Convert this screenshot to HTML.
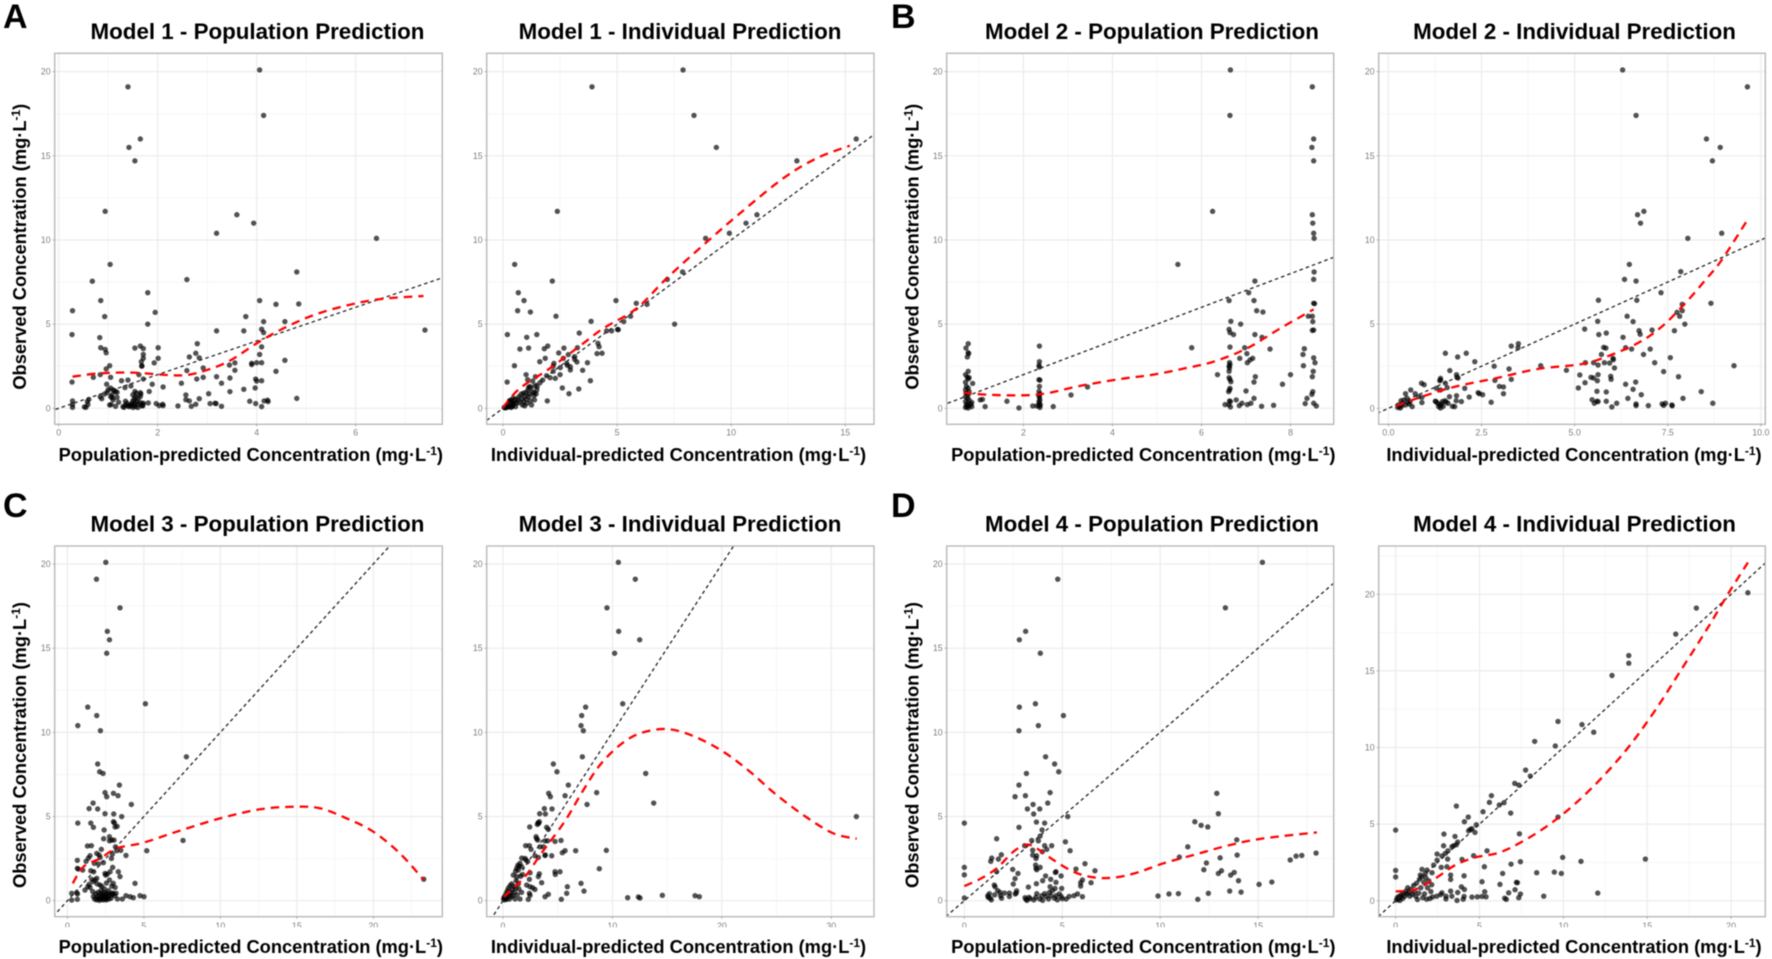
<!DOCTYPE html>
<html lang="en">
<head>
<meta charset="utf-8">
<title>Goodness-of-fit plots for Models 1 to 4</title>
<style>
html,body{margin:0;padding:0;background:#fff;width:1772px;height:959px;overflow:hidden}
#figure{display:block;filter:blur(0.45px)}
.title{font:bold 22.35px "Liberation Sans",sans-serif;fill:#000;text-anchor:middle}
.axt{font:bold 18.3px "Liberation Sans",sans-serif;fill:#000;text-anchor:middle}
.sup{font-size:12px}
.letter{font:bold 34px "Liberation Sans",sans-serif;fill:#000}
.tick{font:8.8px "Liberation Sans",sans-serif;fill:#7f7f7f}
</style>
</head>
<body>
<svg id="figure" xmlns="http://www.w3.org/2000/svg" width="1772" height="959" viewBox="0 0 1772 959">
<rect width="1772" height="959" fill="#fff"/>
<text class="letter" x="3" y="28">A</text>
<text class="letter" x="891" y="28">B</text>
<text class="letter" x="3" y="517">C</text>
<text class="letter" x="891" y="517">D</text>

<text class="title" x="257.5" y="39">Model 1 - Population Prediction</text>
<text class="title" x="680" y="39">Model 1 - Individual Prediction</text>
<text class="title" x="1152" y="39">Model 2 - Population Prediction</text>
<text class="title" x="1574.5" y="39">Model 2 - Individual Prediction</text>
<text class="title" x="257.5" y="531.7">Model 3 - Population Prediction</text>
<text class="title" x="680" y="531.7">Model 3 - Individual Prediction</text>
<text class="title" x="1152" y="531.7">Model 4 - Population Prediction</text>
<text class="title" x="1574.5" y="531.7">Model 4 - Individual Prediction</text>

<text class="axt" x="250.8" y="461">Population-predicted Concentration (mg·L<tspan class="sup" dy="-6">-1</tspan><tspan dy="6">)</tspan></text>
<text class="axt" x="678.5" y="461">Individual-predicted Concentration (mg·L<tspan class="sup" dy="-6">-1</tspan><tspan dy="6">)</tspan></text>
<text class="axt" x="1143.3" y="461">Population-predicted Concentration (mg·L<tspan class="sup" dy="-6">-1</tspan><tspan dy="6">)</tspan></text>
<text class="axt" x="1574" y="461">Individual-predicted Concentration (mg·L<tspan class="sup" dy="-6">-1</tspan><tspan dy="6">)</tspan></text>
<text class="axt" x="250.8" y="953">Population-predicted Concentration (mg·L<tspan class="sup" dy="-6">-1</tspan><tspan dy="6">)</tspan></text>
<text class="axt" x="678.5" y="953">Individual-predicted Concentration (mg·L<tspan class="sup" dy="-6">-1</tspan><tspan dy="6">)</tspan></text>
<text class="axt" x="1143.3" y="953">Population-predicted Concentration (mg·L<tspan class="sup" dy="-6">-1</tspan><tspan dy="6">)</tspan></text>
<text class="axt" x="1574" y="953">Individual-predicted Concentration (mg·L<tspan class="sup" dy="-6">-1</tspan><tspan dy="6">)</tspan></text>

<text class="axt" transform="translate(26,246.7) rotate(-90)">Observed Concentration (mg·L<tspan class="sup" dy="-6">-1</tspan><tspan dy="6">)</tspan></text>
<text class="axt" transform="translate(918.5,246.7) rotate(-90)">Observed Concentration (mg·L<tspan class="sup" dy="-6">-1</tspan><tspan dy="6">)</tspan></text>
<text class="axt" transform="translate(26,745) rotate(-90)">Observed Concentration (mg·L<tspan class="sup" dy="-6">-1</tspan><tspan dy="6">)</tspan></text>
<text class="axt" transform="translate(918.5,745) rotate(-90)">Observed Concentration (mg·L<tspan class="sup" dy="-6">-1</tspan><tspan dy="6">)</tspan></text>
</svg>

<script>
/* ---------- Model 1 population ---------- */
const m1PopXDomain=[-0.08,7.75];
const m1PopYDomain=[-0.95,21.09];
const m1PopXTicks=[0,2,4,6];
const m1PopXTickLabels=["0","2","4","6"];
const m1PopXMinor=[1,3,5,7];
const m1PopPoints=[[4.06,20.1],[4.14,17.4],[1.4,19.1],[1.65,16],[1.42,15.5],[1.54,14.7],[.94,11.7],[3.6,11.5],[3.94,11],[3.19,10.4],[6.42,10.1],[1.04,8.55],[4.81,8.1],[2.59,7.65],[.68,7.55],[1.8,6.87],[.85,6.4],[4.06,6.4],[4.39,6.18],[4.85,6.2],[.28,5.8],[1.95,5.7],[.93,5.45],[3.78,5.45],[4.14,5.15],[4.57,5.15],[1.8,5],[4.1,4.7],[3.74,4.6],[3.19,4.6],[4.14,4.5],[.27,4.38],[.83,4.2],[7.4,4.65],[.85,3.6],[.94,3.5],[.96,3.3],[1.54,3.58],[1.65,3.7],[1.71,3.55],[2.01,3.6],[2.8,3.84],[4.06,3.2],[4.1,3.65],[1.71,3.2],[1.71,2.97],[2.01,2.97],[1.93,2.7],[2.64,3.05],[2.77,3.27],[2.84,3],[1.67,2.77],[1.68,2.53],[1.68,2.5],[1.03,2.53],[.96,2.34],[2.92,2.4],[3.45,2.57],[3.56,2.7],[3.56,2.26],[3.9,2.67],[3.9,2.6],[4,2.71],[4.1,2.71],[4.57,2.85],[4.39,2.2],[2.59,2.24],[1.62,2],[.7,1.84],[.84,2],[1.05,1.84],[3.19,1.88],[2.92,1.84],[2.79,1.74],[3.46,1.8],[1.71,1.74],[.27,1.56],[1.27,1.64],[1.4,1.68],[3.98,1.74],[4,1.62],[4.1,1.64],[2.48,1.49],[3.29,1.49],[1.89,1.43],[.97,1.43],[1.46,1.33],[2.11,1.27],[1.34,1.23],[3.74,1.13],[3.97,1.21],[3.46,.99],[1.83,1],[1.1,1.09],[1.15,1],[3.03,.87],[2.57,.79],[1.65,.93],[1.54,1],[.98,.95],[.84,.69],[.87,.57],[1.08,.63],[4.81,.59],[2.84,.57],[2.57,.51],[2.64,.44],[3.86,.42],[4.15,.44],[4.22,.48],[4.23,.4],[.28,.44],[.61,.53],[.58,.4],[1.35,.42],[3.06,.28],[3.16,.3],[3.18,.28],[3.98,.28],[1.97,.28],[1.81,.32],[1.71,.3],[1.21,.36],[2.03,.16],[2.11,.16],[2.1,.24],[2.41,.14],[2.68,.12],[2.77,.24],[3.29,.12],[4.1,.1],[1.15,.12],[1.06,.22],[1.03,.2],[.52,.08],[.55,.06],[.28,.06],[.28,.22],[.59,.22],[1.32,.06],[1.3,.1],[1.4,.15],[1.42,.1],[1.45,.2],[1.48,.3],[1.5,.05],[1.52,.2],[1.55,.1],[1.55,.3],[1.5,.45],[1.53,.55],[1.55,.7],[1.5,.8],[1.57,.9],[1.62,.25],[1.65,.35],[1.65,.7],[1.68,.15],[1.7,.25],[1.66,.85],[1.6,.05],[.93,.85],[1,1.1],[1.05,1.2],[1.08,.8],[1.12,1.05],[1.18,.95],[1.05,.7],[1.1,.5],[1.18,.65],[1.35,.2],[1.38,.3],[1.46,.15],[1.58,.42],[1.6,.6],[1.7,.15]];
const m1PopSmooth=[[.28,1.88],[.84,2.08],[1.5,2.12],[2.18,1.98],[2.59,1.98],[3,2.28],[3.46,2.83],[4,3.86],[4.54,4.75],[5.21,5.6],[5.95,6.2],[6.56,6.51],[7.37,6.67]];

/* ---------- Model 1 individual ---------- */
const m1IndXDomain=[-0.716,16.26];
const m1IndYDomain=[-0.95,21.09];
const m1IndXTicks=[0,5,10,15];
const m1IndXTickLabels=["0","5","10","15"];
const m1IndXMinor=[2.5,7.5,12.5];
const m1IndPoints=[[7.89,20.1],[8.37,17.4],[3.9,19.1],[15.48,16],[9.35,15.5],[12.88,14.7],[2.38,11.7],[11.13,11.5],[10.65,11],[9.92,10.4],[8.88,10.1],[.51,8.55],[7.87,8.1],[7.2,7.66],[2.16,7.56],[.67,6.87],[.92,6.4],[4.95,6.4],[6.31,6.18],[5.84,6.24],[.64,5.8],[1.2,5.72],[2.32,5.47],[5.59,5.47],[3.86,5.17],[5.29,5.15],[7.52,5],[5.02,4.69],[5.05,4.67],[4.54,4.6],[4.76,4.6],[3.34,4.47],[.19,4.38],[1.48,4.38],[1.04,4.22],[4.16,3.86],[4.21,3.66],[.74,3.52],[1.12,3.58],[1.81,3.54],[1.96,3.7],[2.67,3.58],[3.26,3.6],[2.44,3.29],[2.86,3.19],[4.12,3.25],[4.34,3.27],[3.14,3.07],[3.14,2.91],[1.85,2.97],[2.64,2.97],[1.61,2.77],[3.7,2.71],[3.24,2.75],[2.23,2.67],[2.79,2.67],[2.82,2.55],[.5,2.53],[2.2,2.51],[2.51,2.42],[2.95,2.47],[2.95,2.28],[3.49,2.26],[2.2,2.2],[1.01,2],[2.5,2],[1.91,1.94],[1.42,1.88],[2.06,1.82],[2.29,1.78],[1.08,1.7],[3.83,1.64],[1.74,1.68],[1.62,1.52],[.18,1.56],[1.3,1.62],[1.5,1.29],[1.18,1.29],[1.12,1.25],[1.48,1.09],[2.6,1.21],[3.32,1.15],[2.89,.87],[1.37,.93],[1.94,.44],[.05,.05],[.1,.02],[.12,.1],[.15,.05],[.18,.2],[.2,.08],[.22,.15],[.25,.3],[.27,.1],[.3,.4],[.32,.2],[.35,.05],[.35,.5],[.38,.25],[.4,.35],[.42,.15],[.45,.6],[.48,.3],[.5,.45],[.55,.1],[.55,.55],[.6,.3],[.65,.5],[.7,.7],[.72,.35],[.8,.85],[.82,.55],[.85,.2],[.9,.9],[.9,.4],[.95,.7],[.95,.15],[1,.95],[1.02,.55],[1.05,.3],[1.1,1.1],[1.12,.7],[1.15,.85],[1.2,.45],[1.22,1.2],[1.25,.2],[1.3,.95],[1.35,.75],[1.38,.5],[1.4,1.35],[1.45,.85],[.28,.45],[.3,.15],[.33,.3],[.4,.1]];
const m1IndSmooth=[[0,.06],[.74,1.19],[2.06,2.38],[3.52,3.86],[4.4,4.75],[5.86,5.94],[7.17,7.72],[8.78,9.7],[10.38,11.58],[12.28,13.66],[13.74,14.85],[15.2,15.6]];

/* ---------- Model 2 population ---------- */
const m2PopXDomain=[0.277,8.97];
const m2PopYDomain=[-0.95,21.09];
const m2PopXTicks=[2,4,6,8];
const m2PopXTickLabels=["2","4","6","8"];
const m2PopXMinor=[1,3,5,7];
const m2PopPoints=[[.76,3.84],[.71,3.58],[.76,3.3],[.77,3.25],[.74,3.05],[.76,2.2],[.7,2],[.74,1.85],[.78,1.82],[.76,1.75],[.7,1.55],[.86,1.48],[.72,1.3],[.76,1.2],[.7,1.1],[.78,1],[.72,.9],[.76,.8],[.7,.7],[.74,.6],[.78,.5],[.7,.4],[.75,.3],[.72,.2],[.78,.15],[.73,.1],[.7,.05],[.76,.02],[.82,.25],[.84,.35],[1.03,.5],[1.08,.53],[1.14,.1],[.84,.1],[1.63,.42],[1.9,.02],[2.21,.14],[2.67,.1],[3.07,.79],[3.44,1.27],[2.36,3.7],[2.36,2.77],[2.35,2.55],[2.36,2.45],[2.35,1.7],[2.37,1.68],[2.36,1.3],[2.35,1],[2.37,.85],[2.35,.75],[2.36,.65],[2.37,.5],[2.35,.4],[2.36,.3],[2.38,.2],[2.35,.15],[2.37,.05],[2.3,.14],[5.78,3.6],[5.47,8.55],[6.25,11.7],[6.65,20.1],[6.64,17.4],[8.49,19.1],[8.52,16],[8.48,15.5],[8.52,14.7],[8.49,11.5],[8.5,11],[8.52,10.4],[8.53,10.1],[8.53,8.1],[8.52,7.66],[7.2,7.56],[7.06,6.87],[7.18,6.4],[6.62,6.4],[8.52,6.24],[8.54,6.22],[7.24,5.8],[7.38,5.72],[8.4,5.47],[8.49,5.47],[8.5,5.15],[6.66,5.17],[6.88,5],[6.62,4.69],[8.49,4.63],[8.52,4.65],[6.64,4.5],[6.72,4.38],[7.2,4.38],[7.36,4.22],[6.64,3.64],[6.97,3.6],[7.54,3.52],[8.31,3.54],[7.02,3.25],[8.28,3.2],[6.86,2.97],[8.52,3],[7.15,2.97],[7.09,2.87],[7.03,2.71],[8.55,2.71],[6.63,2.72],[6.64,2.6],[6.62,2.5],[6.63,2.4],[6.62,2.2],[8.29,2.53],[8.51,2.2],[6.36,2],[8,2],[7.21,1.88],[8.49,1.88],[6.62,1.82],[6.64,1.72],[6.66,1.58],[7.18,1.56],[7.82,1.43],[6.64,1.19],[6.63,1.09],[7,1.03],[6.61,.99],[8.5,.99],[8.48,.83],[8.37,.59],[7.18,.59],[6.78,.5],[6.63,.44],[6.65,.4],[8.33,.28],[8.52,.3],[6.53,.22],[6.61,.22],[6.91,.3],[6.85,.16],[7.11,.3],[7.03,.22],[7.62,.18],[7.35,.12],[8.58,.14],[6.65,.08]];
const m2PopSmooth=[[.65,.93],[1.18,.81],[1.93,.77],[2.52,.89],[3.27,1.33],[4.17,1.74],[4.92,2],[5.67,2.4],[6.27,2.77],[7.02,3.56],[7.77,4.75],[8.52,5.88]];

/* ---------- Model 2 individual ---------- */
const m2IndXDomain=[-0.26,10.12];
const m2IndYDomain=[-0.95,21.09];
const m2IndXTicks=[0,2.5,5,7.5,10];
const m2IndXTickLabels=["0.0","2.5","5.0","7.5","10.0"];
const m2IndXMinor=[1.25,3.75,6.25,8.75];
const m2IndPoints=[[6.29,20.1],[6.65,17.4],[9.64,19.1],[8.54,16],[8.91,15.5],[8.7,14.7],[6.86,11.7],[6.69,11.5],[6.77,11],[8.95,10.4],[8.04,10.1],[6.47,8.55],[7.85,8.12],[6.34,7.66],[6.65,7.56],[7.32,6.87],[5.64,6.42],[6.67,6.42],[8.66,6.24],[7.89,6.18],[7.75,5.7],[7.89,5.8],[6.41,5.47],[7.82,5.47],[5.62,5.17],[6.57,5.15],[7.96,5],[5.27,4.71],[6.73,4.61],[7.08,4.65],[7.68,4.61],[5.85,4.47],[6.76,4.4],[5.65,4.38],[6.3,4.22],[3.49,3.84],[3.3,3.7],[3.48,3.6],[5.78,3.62],[5.84,3.58],[6.37,3.6],[6.53,3.52],[7.03,3.52],[1.53,3.27],[2.09,3.27],[5.72,3.2],[1.86,3.05],[6.85,3.2],[6.03,2.97],[7.57,3.01],[6.04,2.89],[2.32,2.77],[7.15,2.71],[5.29,2.71],[5.51,2.71],[5.8,2.71],[5.94,2.69],[5.63,2.57],[2.84,2.5],[4.09,2.53],[9.28,2.53],[6.07,2.4],[3.24,2.34],[4.78,2.26],[1.65,2.24],[7.39,2.18],[1.83,2],[5.14,1.98],[5.63,2],[5.97,1.9],[7.79,1.88],[5.44,1.84],[5.51,1.8],[1.84,1.84],[1.87,1.8],[1.4,1.78],[1.4,1.68],[1.38,1.64],[3.3,1.72],[2.86,1.66],[5.61,1.64],[5.98,1.72],[.89,1.49],[.96,1.4],[1.53,1.49],[5.28,1.52],[6.64,1.56],[6.37,1.43],[2.98,1.3],[3.09,1.27],[1.58,1.23],[1.29,1.19],[1.4,1.09],[2.05,1.19],[5.1,1.21],[6.57,1.13],[.6,1.09],[5.6,1.01],[5.85,.97],[8.4,.99],[2.41,.93],[2.44,.87],[2.53,.81],[3.09,.87],[6.79,.81],[.46,.87],[.72,.87],[1.64,.69],[1.83,.75],[2.17,.67],[.81,.69],[.9,.65],[6.43,.59],[7.91,.59],[5.47,.51],[1.26,.42],[5.85,.42],[5.6,.42],[5.63,.4],[1.96,.4],[2.76,.36],[.9,.34],[5.53,.3],[7.44,.3],[7.35,.26],[8.71,.3],[6.13,.3],[6.65,.26],[6,.08],[6.65,.16],[6.98,.16],[7.39,.18],[7.61,.2],[7.62,.15],[.64,.1],[.25,.05],[.27,.2],[.3,.12],[.32,.02],[.34,.45],[.36,.15],[.38,.3],[.42,.5],[.46,.2],[.5,.6],[.52,.35],[.56,.25],[.58,.4],[1.32,.3],[1.35,.1],[1.38,.2],[1.4,.02],[1.42,.25],[1.45,.4],[1.47,.12],[1.52,.45],[1.55,.38],[1.6,.3],[1.72,.12],[1.78,.1],[1.82,.45],[1.28,.4]];
const m2IndSmooth=[[.21,.14],[.9,.69],[1.8,1.29],[2.87,1.78],[4.03,2.34],[5.2,2.63],[5.91,3.11],[6.72,3.9],[7.34,4.85],[7.97,6.24],[8.51,7.62],[8.95,8.81],[9.64,11.19]];

/* ---------- Model 3 population ---------- */
const m3PopXDomain=[-0.83,24.51];
const m3PopYDomain=[-0.95,21.07];
const m3PopXTicks=[0,5,10,15,20];
const m3PopXTickLabels=["0","5","10","15","20"];
const m3PopXMinor=[2.5,7.5,12.5,17.5,22.5];
const m3PopPoints=[[2.51,20.1],[1.9,19.1],[3.44,17.4],[2.61,16],[2.75,15.5],[2.57,14.7],[5.1,11.7],[1.33,11.5],[1.92,11],[.68,10.4],[2.16,10.1],[7.78,8.55],[1.98,8.12],[2.11,7.66],[2.33,7.56],[3.4,6.87],[2.46,6.42],[3.01,6.38],[2.57,6.18],[3.31,6.24],[1.68,5.8],[4.18,5.72],[1.42,5.47],[1.98,5.45],[2.46,5.17],[3.03,5.15],[3.55,5],[.68,4.61],[3.01,4.69],[3.07,4.63],[1.53,4.61],[1.7,4.36],[3.25,4.42],[3.12,4.38],[2.4,4.2],[2.37,3.68],[2.75,3.8],[2.9,3.6],[3.05,3.6],[2.75,3.56],[7.56,3.58],[1.31,3.25],[1.57,3.27],[3.14,3.2],[2.22,3.05],[3.49,2.99],[3.22,2.97],[5.19,2.97],[1.92,2.81],[3.83,2.69],[2.07,2.71],[2.94,2.77],[1.48,2.67],[1.37,2.53],[2.14,2.57],[.65,2.4],[1.22,2.34],[2.88,2.51],[1.76,2.22],[2.35,2.26],[2.03,2.18],[2.96,1.98],[.65,1.92],[.72,1.88],[1,1.82],[1.53,1.78],[1.72,1.72],[3.33,1.72],[2.79,1.72],[2.46,1.62],[2.61,1.58],[2.5,1.52],[3.44,1.43],[1.92,1.33],[1.81,1.23],[1.59,1.27],[1.7,1.13],[2.75,1.23],[3,1.03],[4.42,1.03],[1.42,.97],[1.33,.83],[1.15,.63],[1.48,.79],[2.14,.93],[2.9,.87],[3.12,.79],[.61,.48],[.66,.4],[.28,.44],[3.18,.44],[3.83,.3],[4.75,.3],[5.01,.24],[4.1,.24],[4.31,.18],[3.59,.1],[.28,.04],[.65,.08],[3.27,.1],[23.3,1.28],[1.7,.25],[1.78,.1],[1.85,.4],[1.9,.05],[1.95,.2],[2,.5],[2.02,.1],[2.08,.3],[2.1,.02],[2.14,.15],[2.18,.42],[2.2,.6],[2.25,.08],[2.28,.25],[2.32,.35],[2.35,.05],[2.38,.5],[2.4,.15],[2.42,.7],[2.47,.25],[2.5,.38],[2.52,.1],[2.55,.05],[2.58,.45],[2.6,.2],[2.65,.3],[2.7,.6],[2.72,.1],[2.78,.4],[2.85,.15],[2.9,.35],[3,.42],[1.65,.55],[2.25,.85],[1.95,1],[2.55,1.05],[2.95,.45],[3.1,.3]];
const m3PopSmooth=[[.35,1.03],[1.05,2.02],[2.14,2.51],[3.22,3.11],[4.97,3.45],[7.15,4.1],[9.98,4.89],[12.59,5.43],[14.77,5.58],[16.51,5.49],[18.26,4.89],[20,4.1],[21.74,2.81],[23.3,1.23]];

/* ---------- Model 3 individual ---------- */
const m3IndXDomain=[-1.49,33.9];
const m3IndYDomain=[-0.95,21.07];
const m3IndXTicks=[0,10,20,30];
const m3IndXTickLabels=["0","10","20","30"];
const m3IndXMinor=[5,15,25];
const m3IndPoints=[[10.54,20.1],[12.09,19.1],[9.5,17.4],[10.57,16],[12.49,15.5],[10.2,14.7],[10.94,11.7],[7.55,11.5],[7.19,11],[7.13,10.4],[7.34,10.1],[7.25,8.55],[4.6,8.12],[4.93,7.66],[13.04,7.56],[5.97,6.87],[8.56,6.42],[4.17,6.38],[4.33,6.18],[5.67,6.24],[13.77,5.8],[7.68,5.72],[3.78,5.47],[4.48,5.45],[3.35,5.17],[3.87,5.15],[32.29,5],[3.32,4.69],[3.2,4.63],[3.26,4.6],[3.14,4.53],[2.44,4.38],[3.99,4.36],[4.14,4.24],[3.02,3.8],[3.08,3.68],[3.17,3.6],[4.75,3.52],[5.3,3.58],[3.84,3.56],[4.08,3.56],[2.07,3.27],[2.41,3.27],[3.38,3.2],[3.69,3.2],[2.56,3.05],[5.67,2.97],[5.42,2.85],[6.64,2.97],[9.44,2.99],[3.84,2.69],[4.45,2.67],[2.92,2.67],[3.23,2.57],[3.86,2.72],[1.71,2.53],[2.01,2.51],[2.1,2.42],[2.25,2.32],[1.55,2.22],[1.49,2.06],[1.25,1.92],[1.71,2.02],[8.8,1.9],[1.4,1.82],[.94,1.52],[1.25,1.43],[2.47,1.66],[4.75,1.72],[5.21,1.72],[4.78,1.56],[3.32,1.6],[3.23,1.43],[2.41,1.27],[3.53,1.07],[7.13,1.03],[5.88,.83],[2.16,.93],[2.47,.83],[2.71,.77],[2.92,.67],[7.4,.57],[5.82,.44],[2.41,.44],[2.47,.32],[4.14,.38],[3.84,.24],[5.33,.08],[14.56,.32],[17.55,.3],[17.94,.24],[11.39,.18],[12.37,.22],[12.52,.16],[2.31,.08],[.05,.1],[.1,.2],[.15,.05],[.2,.3],[.25,.15],[.3,.45],[.35,.08],[.4,.6],[.45,.25],[.5,.75],[.55,.4],[.6,.1],[.65,.9],[.7,.5],[.75,.25],[.8,1],[.85,.65],[.9,.3],[1,.85],[1.05,.5],[1.1,.1],[1.15,.75],[1.2,1.2],[1.3,.35],[1.4,1],[1.45,.7],[1.55,.1],[1.6,1.45],[1.7,.5],[1.8,1.55],[1.15,1.75],[1.35,2.1]];
const m3IndSmooth=[[.09,.24],[2.01,1.43],[3.38,2.71],[4.45,3.64],[5.82,4.89],[7.34,6.57],[8.86,8.06],[10.69,9.25],[12.52,9.94],[14.96,10.2],[17.39,9.78],[20.13,8.85],[22.57,7.66],[25,6.28],[27.75,4.95],[30.19,4],[32.32,3.68]];

/* ---------- Model 4 population ---------- */
const m4PopXDomain=[-0.9,18.86];
const m4PopYDomain=[-0.95,21.07];
const m4PopXTicks=[0,5,10,15];
const m4PopXTickLabels=["0","5","10","15"];
const m4PopXMinor=[2.5,7.5,12.5,17.5];
const m4PopPoints=[[15.22,20.1],[4.77,19.1],[13.33,17.4],[3.13,16],[2.81,15.5],[3.88,14.7],[3.63,11.7],[2.81,11.5],[5.06,11],[3.78,10.4],[2.79,10.1],[4.15,8.55],[4.61,8.12],[4.82,7.66],[3.17,7.56],[2.79,6.87],[4.38,6.42],[12.89,6.38],[2.59,6.18],[3.12,6.24],[4.26,5.8],[3.51,5.72],[3.22,5.45],[3.85,5.45],[3.54,5.15],[12.97,5.17],[5.28,5],[0,4.61],[3.68,4.67],[4.1,4.61],[11.77,4.69],[12.09,4.48],[12.43,4.38],[2.79,4.36],[3.97,4.2],[1.65,3.68],[3.87,3.84],[13.91,3.62],[3.44,3.58],[3.78,3.56],[5.16,3.5],[3.08,3.27],[4.1,3.27],[4.46,3.27],[11.41,3.2],[4.21,3.05],[3.49,3],[5.4,2.97],[3.98,2.91],[1.89,2.73],[3.49,2.71],[3.69,2.67],[10.98,2.59],[13.93,2.71],[13.06,2.55],[1.4,2.53],[1.74,2.47],[1.35,2.34],[3.66,2.51],[12.36,2.24],[17.23,2.69],[16.94,2.65],[16.64,2.42],[17.96,2.83],[6.16,2.2],[3.64,2.12],[3.87,1.98],[0,1.98],[3.66,1.92],[3.7,1.84],[2.47,1.86],[5.7,1.88],[12.23,1.84],[6.67,1.78],[13.13,1.78],[2.74,1.62],[12.97,1.62],[4.65,1.68],[4.68,1.72],[13.78,1.68],[13.6,1.52],[0,1.54],[1.65,1.72],[4.94,1.47],[4.15,1.47],[2.59,1.31],[4.41,1.27],[4,1.19],[14,1.19],[6.03,1.23],[5.94,1.07],[2.5,.99],[4.68,1.09],[6.47,1.07],[15.05,.97],[15.7,1.11],[3.68,1.01],[5.94,.87],[1.53,.93],[1.57,.83],[3.27,.81],[4.38,.83],[4.63,.73],[4.97,.73],[13.55,.57],[14.13,.51],[2.67,.59],[10.93,.42],[10.45,.4],[9.89,.28],[12.46,.44],[11.92,.08],[6.03,.24],[0,.16],[1.2,.3],[1.22,.2],[1.28,.42],[1.32,.15],[1.38,.05],[1.55,.35],[1.7,.6],[1.82,.5],[1.85,.3],[1.9,.15],[2.05,.45],[2.3,.45],[2.3,.25],[2.6,.4],[2.65,.45],[3.1,.18],[3.15,.08],[3.2,.02],[3.3,.2],[3.36,.12],[3.55,.05],[3.65,.2],[3.7,.42],[3.85,.1],[3.95,.3],[4,.02],[4.1,.42],[4.18,.25],[4.3,.1],[4.35,.5],[4.42,.3],[4.5,.6],[4.6,.15],[4.68,.3],[4.75,.05],[4.85,.4],[4.95,.25],[5,.12],[5.2,.1],[5.35,.25],[5.6,.3],[5.78,.4]];
const m4PopSmooth=[[0,.87],[.8,1.29],[1.65,1.92],[2.5,2.91],[3.18,3.33],[3.69,3.11],[4.55,2.42],[5.57,1.72],[6.59,1.39],[7.61,1.37],[8.8,1.66],[10.17,2.22],[11.87,2.77],[13.57,3.31],[15.27,3.7],[18,4.06]];

/* ---------- Model 4 individual ---------- */
const m4IndXDomain=[-1.01,22.04];
const m4IndYDomain=[-1.04,23.15];
const m4IndXTicks=[0,5,10,15,20];
const m4IndXTickLabels=["0","5","10","15","20"];
const m4IndXMinor=[2.5,7.5,12.5,17.5];
const m4IndPoints=[[21,20.1],[17.93,19.1],[16.7,17.4],[13.9,16],[13.9,15.5],[12.9,14.7],[9.68,11.7],[11.11,11.5],[11.81,11],[8.29,10.4],[9.52,10.1],[7.75,8.53],[8.03,8.14],[7.1,7.66],[7.34,7.55],[5.71,6.86],[3.62,6.18],[5.59,6.42],[6.46,6.4],[6.18,6.25],[5.21,5.81],[6.86,5.72],[4.33,5.46],[4.1,5.16],[9.68,5.46],[4.81,4.96],[0,4.61],[4.45,4.66],[4.55,4.7],[4.35,4.57],[4.73,4.46],[2.88,4.35],[7.38,4.37],[3.54,4.2],[3.7,3.83],[3.62,3.66],[3.46,3.59],[3.36,3.53],[2.86,3.59],[3.12,3.26],[2.96,3.09],[5.45,3.26],[2.47,3.05],[2.76,2.92],[3.1,2.72],[3.96,2.7],[4.65,2.94],[9.96,2.83],[14.89,2.72],[11.05,2.57],[7.44,2.55],[6.88,2.39],[3.06,2.22],[5.29,2.22],[2.72,2.18],[2.47,2.65],[2.27,2.33],[1.57,2.05],[1.87,2],[0,1.98],[8.41,1.83],[9.46,1.87],[9.88,1.78],[6.38,1.78],[3.28,1.68],[4.08,1.63],[3.28,1.39],[0,1.55],[1.77,1.78],[1.47,1.68],[2.17,1.83],[5.15,1.24],[7.2,1.2],[7.26,1.18],[6.22,1.07],[3.92,.91],[4.1,.74],[7.12,.72],[2.76,.52],[3.28,.63],[3.7,.54],[5.31,.59],[6.74,.52],[12.05,.5],[7.44,.44],[8.83,.3],[4.08,.28],[4.55,.24],[4.87,.26],[5.15,.28],[5.39,.26],[6.5,.17],[6.6,.09],[7.34,.2],[3.66,.02],[4.03,.1],[.05,.05],[.1,.2],[.15,.1],[.2,.3],[.25,.02],[.3,.25],[.35,.4],[.42,.15],[.48,.5],[.55,.3],[.6,.62],[.68,.45],[.72,.85],[.8,.55],[.85,.3],[.92,.75],[1,.42],[1.08,1],[1.12,.6],[1.2,.3],[1.25,1.15],[1.3,.08],[1.38,.5],[1.42,1.4],[1.5,.85],[1.55,1.55],[1.62,.2],[1.68,1.2],[1.72,.45],[1.8,1.5],[1.85,.1],[1.9,.85],[1.98,1.3],[2.05,.15],[2.1,.6],[2.15,1.05],[2.2,.25],[2.45,.3],[2.68,.4],[3,.12],[3.35,.3],[3,.3]];
const m4IndSmooth=[[0,.61],[1.17,.74],[2.37,1.46],[3.56,2.33],[4.75,2.83],[6.14,3.13],[7.53,3.85],[9.13,4.95],[10.72,6.35],[12.31,8.05],[13.9,10.05],[15.49,12.45],[17.08,15.17],[18.47,17.56],[19.86,20.1],[21,22.07]];

/* ---------- shared y axes ---------- */
const yTicksStandard=[0,5,10,15,20];
const yMinorStandard=[2.5,7.5,12.5,17.5];
const yMinorExtended=[2.5,7.5,12.5,17.5,22.5];

/* ---------- layout (pixel boxes only) ---------- */
const panels=[
 {id:'model-1-population',box:[54.7,442.3,53.3,424.3],row:0,xd:m1PopXDomain,yd:m1PopYDomain,xt:m1PopXTicks,xl:m1PopXTickLabels,xm:m1PopXMinor,yt:yTicksStandard,ym:yMinorStandard,pts:m1PopPoints,sm:m1PopSmooth},
 {id:'model-1-individual',box:[486.7,874,53.3,424.3],row:0,xd:m1IndXDomain,yd:m1IndYDomain,xt:m1IndXTicks,xl:m1IndXTickLabels,xm:m1IndXMinor,yt:yTicksStandard,ym:yMinorStandard,pts:m1IndPoints,sm:m1IndSmooth},
 {id:'model-2-population',box:[946.7,1333.7,53.3,424.3],row:0,xd:m2PopXDomain,yd:m2PopYDomain,xt:m2PopXTicks,xl:m2PopXTickLabels,xm:m2PopXMinor,yt:yTicksStandard,ym:yMinorStandard,pts:m2PopPoints,sm:m2PopSmooth},
 {id:'model-2-individual',box:[1378.7,1765.3,53.3,424.3],row:0,xd:m2IndXDomain,yd:m2IndYDomain,xt:m2IndXTicks,xl:m2IndXTickLabels,xm:m2IndXMinor,yt:yTicksStandard,ym:yMinorStandard,pts:m2IndPoints,sm:m2IndSmooth},
 {id:'model-3-population',box:[54.7,442.3,546,916.7],row:1,xd:m3PopXDomain,yd:m3PopYDomain,xt:m3PopXTicks,xl:m3PopXTickLabels,xm:m3PopXMinor,yt:yTicksStandard,ym:yMinorStandard,pts:m3PopPoints,sm:m3PopSmooth},
 {id:'model-3-individual',box:[486.7,874,546,916.7],row:1,xd:m3IndXDomain,yd:m3IndYDomain,xt:m3IndXTicks,xl:m3IndXTickLabels,xm:m3IndXMinor,yt:yTicksStandard,ym:yMinorStandard,pts:m3IndPoints,sm:m3IndSmooth},
 {id:'model-4-population',box:[946.7,1333.7,546,916.7],row:1,xd:m4PopXDomain,yd:m4PopYDomain,xt:m4PopXTicks,xl:m4PopXTickLabels,xm:m4PopXMinor,yt:yTicksStandard,ym:yMinorStandard,pts:m4PopPoints,sm:m4PopSmooth},
 {id:'model-4-individual',box:[1378.7,1765.3,546,916.7],row:1,xd:m4IndXDomain,yd:m4IndYDomain,xt:m4IndXTicks,xl:m4IndXTickLabels,xm:m4IndXMinor,yt:yTicksStandard,ym:yMinorExtended,pts:m4IndPoints,sm:m4IndSmooth}
];

const NS='http://www.w3.org/2000/svg';
const root=document.getElementById('figure');
function mk(tag,attrs,parent){
  const el=document.createElementNS(NS,tag);
  for(const k in attrs){el.setAttribute(k,attrs[k]);}
  parent.appendChild(el);
  return el;
}
function smoothPath(pts,sx,sy){
  const p=pts.map(d=>[sx(d[0]),sy(d[1])]);
  let s='M'+p[0][0].toFixed(2)+' '+p[0][1].toFixed(2);
  for(let i=0;i<p.length-1;i++){
    const a=p[Math.max(i-1,0)],b=p[i],c=p[i+1],d=p[Math.min(i+2,p.length-1)];
    const c1=[b[0]+(c[0]-a[0])/6,b[1]+(c[1]-a[1])/6];
    const c2=[c[0]-(d[0]-b[0])/6,c[1]-(d[1]-b[1])/6];
    s+='C'+c1[0].toFixed(2)+' '+c1[1].toFixed(2)+' '+c2[0].toFixed(2)+' '+c2[1].toFixed(2)+' '+c[0].toFixed(2)+' '+c[1].toFixed(2);
  }
  return s;
}
const defs=mk('defs',{},root);
const tickClip=mk('clipPath',{id:'tick-clip'},defs);
mk('rect',{x:0,y:0,width:1772,height:927.3},tickClip);

panels.forEach(function(P){
  const [L,R,T,B]=P.box;
  const sx=v=>L+(v-P.xd[0])/(P.xd[1]-P.xd[0])*(R-L);
  const sy=v=>B-(v-P.yd[0])/(P.yd[1]-P.yd[0])*(B-T);
  const clip=mk('clipPath',{id:'clip-'+P.id},defs);
  mk('rect',{x:L,y:T,width:R-L,height:B-T},clip);

  const g=mk('g',{},root);
  
  

  const grid=mk('g',{},g);
  
  
  P.xm.forEach(function(v){
    const l=mk('line',{x1:sx(v),x2:sx(v),y1:T,y2:B,stroke:'#f4f4f4','stroke-width':0.8},grid);
    
    
  });
  P.ym.forEach(function(v){
    const l=mk('line',{x1:L,x2:R,y1:sy(v),y2:sy(v),stroke:'#f4f4f4','stroke-width':0.8},grid);
    
    
  });
  P.xt.forEach(function(v){
    const l=mk('line',{x1:sx(v),x2:sx(v),y1:T,y2:B,stroke:'#ececec','stroke-width':1.2},grid);
    
    
  });
  P.yt.forEach(function(v){
    const l=mk('line',{x1:L,x2:R,y1:sy(v),y2:sy(v),stroke:'#ececec','stroke-width':1.2},grid);
    
    
  });

  const marks=mk('g',{'clip-path':'url(#clip-'+P.id+')'},g);
  
  
  P.pts.forEach(function(d){
    const c=mk('circle',{cx:sx(d[0]).toFixed(2),cy:sy(d[1]).toFixed(2),r:2.7,fill:'#000','fill-opacity':0.68},marks);
    
    
  });
  const lo=Math.min(P.xd[0],P.yd[0]),hi=Math.max(P.xd[1],P.yd[1]);
  const idl=mk('line',{x1:sx(lo),y1:sy(lo),x2:sx(hi),y2:sy(hi),stroke:'#222','stroke-width':1.3,'stroke-dasharray':'3.6 3'},marks);
  
  
  const sm=mk('path',{d:smoothPath(P.sm,sx,sy),fill:'none',stroke:'#ff0000','stroke-width':2.3,'stroke-dasharray':'8.5 6'},marks);
  
  

  const border=mk('rect',{x:L,y:T,width:R-L,height:B-T,fill:'none',stroke:'#b9b9b9','stroke-width':1.4},g);
  
  

  const axes=mk('g',P.row===1?{'clip-path':'url(#tick-clip)'}:{},g);
  
  
  const baseX=B+11.4+(P.row===1?1:0);
  P.xt.forEach(function(v,i){
    const tk=mk('line',{x1:sx(v),x2:sx(v),y1:B,y2:B+2,stroke:'#999','stroke-width':0.8},axes);
    
    
    const t=mk('text',{x:sx(v),y:baseX,'text-anchor':'middle',class:'tick'},axes);
    t.textContent=P.xl[i];
    
    
  });
  P.yt.forEach(function(v){
    const tk=mk('line',{x1:L-2,x2:L,y1:sy(v),y2:sy(v),stroke:'#999','stroke-width':0.8},axes);
    
    
    const t=mk('text',{x:L-4,y:sy(v)+3,'text-anchor':'end',class:'tick'},axes);
    t.textContent=String(v);
    
    
  });
});
</script>
</body>
</html>
